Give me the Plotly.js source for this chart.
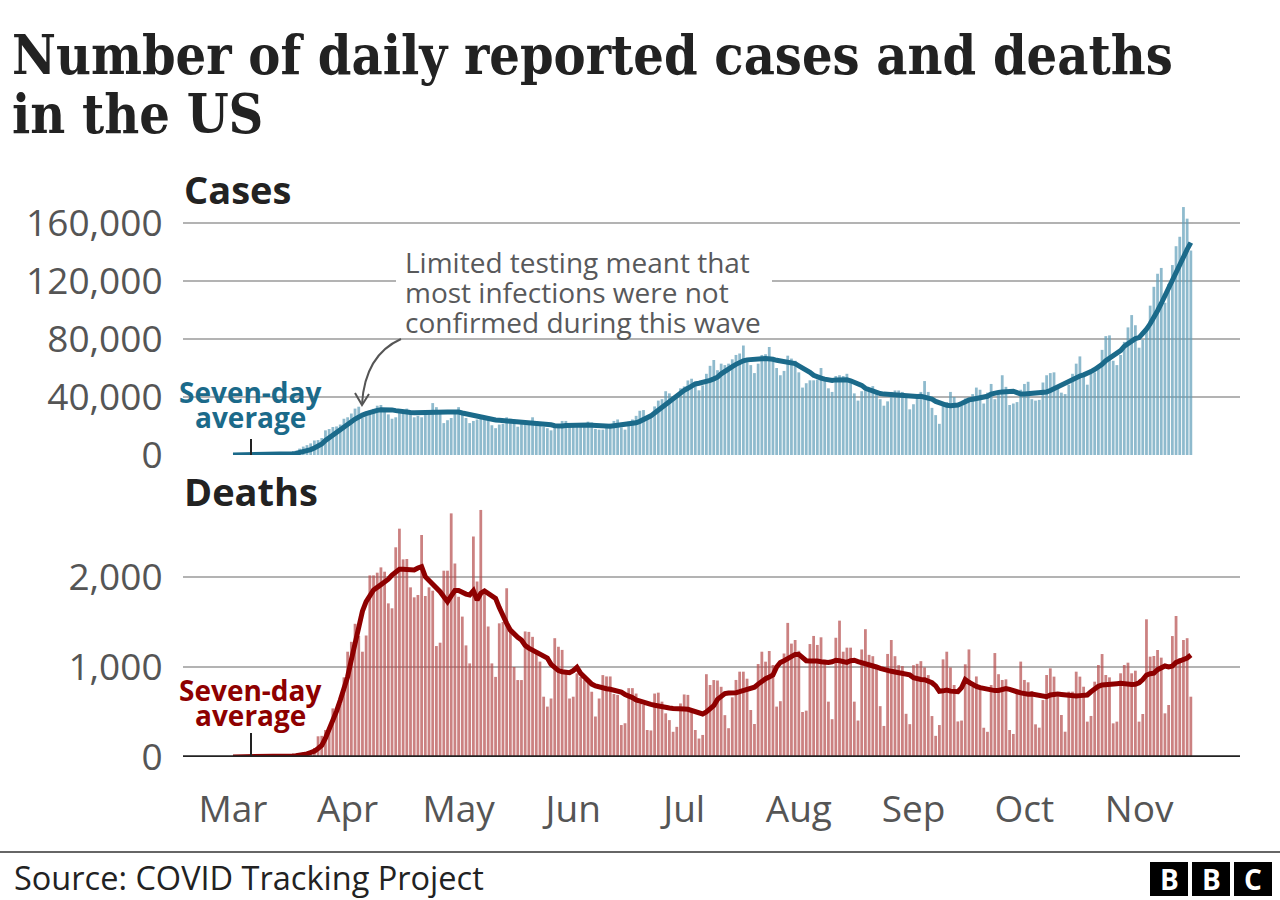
<!DOCTYPE html>
<html>
<head>
<meta charset="utf-8">
<script src="https://cdn.plot.ly/plotly-3.0.1.min.js"></script>
<style>
  html, body { margin: 0; padding: 0; background: #fff; }
  #chart { width: 1280px; height: 900px; }
</style>
</head>
<body>
<div id="chart"></div>
<script>
// ---------- DATA ----------
const monthLabels = ['Mar', 'Apr', 'May', 'Jun', 'Jul', 'Aug', 'Sep', 'Oct', 'Nov'];
const monthNumbers = [3, 4, 5, 6, 7, 8, 9, 10, 11];

// Daily reported cases
const casesMar = [10, 20, 20, 30, 60, 100, 110, 120, 180, 290, 270, 400, 600, 750, 900, 1400, 1800, 2900, 4400, 5800, 6800, 8000, 10000, 10300, 11700, 17000, 17900, 19300, 19700, 21000, 25000];
const casesApr = [26000, 28600, 32000, 33300, 25800, 29800, 30600, 31800, 34000, 34500, 30000, 28000, 25000, 26000, 29000, 31000, 32000, 30000, 26000, 27000, 26000, 28000, 30000, 35800, 33000, 29000, 22000, 24000, 25500, 29500];
const casesMay = [33000, 28500, 25500, 22000, 23500, 24500, 27000, 26500, 24500, 20500, 18500, 21000, 21500, 26000, 25000, 23500, 19500, 21500, 21000, 21000, 26000, 23000, 21500, 19500, 18500, 17000, 19000, 20500, 23500, 23500, 20000];
const casesJun = [20000, 20500, 19500, 21000, 23000, 22500, 18000, 17500, 17500, 20500, 21500, 23500, 24500, 19000, 17500, 23000, 24500, 27000, 30500, 31000, 26000, 28000, 33500, 37500, 38500, 44000, 42500, 40000, 40500, 46000];
const casesJul = [47300, 51400, 52600, 50300, 44600, 48000, 56000, 61500, 65500, 58500, 63000, 62000, 63000, 66000, 69000, 70000, 75500, 66000, 62000, 56500, 63000, 69000, 69500, 74500, 65500, 60000, 55000, 58000, 68500, 66500, 65000];
const casesAug = [57000, 46500, 49500, 51500, 51500, 52000, 60000, 52000, 46000, 43500, 54500, 55000, 54500, 56000, 52000, 42500, 37500, 44000, 44500, 44000, 47500, 44000, 38500, 34000, 37000, 43500, 44500, 44500, 43500, 41000, 31500];
const casesSep = [35000, 40000, 43500, 51000, 43500, 32500, 27500, 21500, 34000, 36500, 43500, 40000, 34500, 34000, 39000, 39000, 42000, 46500, 45000, 35500, 43000, 49000, 38500, 44000, 55000, 47000, 34500, 35500, 36500, 45000];
const casesOct = [49000, 50500, 38500, 37500, 38000, 50000, 55000, 56500, 57000, 46000, 43000, 42000, 48500, 56000, 63000, 68000, 56500, 48500, 56000, 57000, 60000, 72500, 82000, 82500, 65000, 62000, 69000, 78000, 88000, 96500, 89500];
const casesNov = [74000, 79500, 88500, 103000, 116000, 125000, 129000, 105000, 118000, 131000, 144000, 150500, 171000, 163000, 141000];

// Seven-day average of cases
const casesAvgMar = [10, 15, 20, 20, 30, 40, 60, 70, 100, 140, 160, 210, 280, 370, 460, 620, 820, 1100, 1600, 2200, 2900, 3700, 4900, 6100, 7600, 10000, 12000, 14000, 15800, 17800, 19800];
const casesAvgApr = [21300, 23000, 24800, 26600, 27500, 28600, 29600, 30300, 30800, 31200, 31300, 31400, 31100, 30600, 30100, 29700, 29400, 29300, 29200, 29300, 29400, 29300, 29300, 29700, 30000, 30300, 30000, 29700, 29600, 29700];
const casesAvgMay = [29600, 29000, 28400, 27800, 27300, 26600, 26100, 25800, 25200, 24600, 24200, 24000, 23800, 23600, 23400, 23200, 23000, 22900, 22800, 22700, 22600, 22400, 22100, 21700, 21300, 20800, 20200, 19800, 20000, 20300, 20500];
const casesAvgJun = [20600, 20700, 20800, 20800, 20700, 20600, 20300, 20000, 19600, 19500, 19800, 20200, 20600, 20600, 20600, 21000, 21600, 22200, 23200, 24300, 25500, 27000, 29000, 31000, 33000, 35300, 37500, 39300, 41000, 43000];
const casesAvgJul = [44600, 46000, 47500, 49000, 49500, 50000, 50800, 51500, 52500, 53700, 56000, 58000, 59500, 61000, 62500, 64000, 65000, 65600, 66000, 66300, 66400, 66400, 66500, 66400, 66000, 65300, 64800, 64500, 64300, 64000, 63000];
const casesAvgAug = [61500, 60300, 58500, 57000, 55000, 53700, 53000, 52300, 51600, 51400, 51800, 51900, 51900, 51900, 51200, 50300, 49400, 48000, 46000, 45000, 44000, 42900, 42400, 42000, 41800, 41700, 41600, 41600, 41300, 40900, 40400];
const casesAvgSep = [40000, 40300, 40500, 40000, 39500, 38500, 37000, 35800, 35000, 34300, 34000, 34200, 34500, 35500, 37200, 38000, 38500, 38900, 39200, 39700, 40500, 42000, 43000, 43200, 43500, 43700, 43700, 44000, 43000, 42000];
const casesAvgOct = [42100, 42300, 42600, 42800, 43000, 43300, 43500, 44500, 45800, 47200, 48300, 49300, 51300, 52300, 53300, 54500, 55300, 56200, 57500, 59000, 60500, 62500, 65000, 66500, 68000, 69700, 72000, 75000, 77000, 79000, 80300];
const casesAvgNov = [81000, 83500, 86700, 90500, 94500, 99500, 104500, 110000, 115500, 121500, 127000, 132000, 137000, 141800, 146500];

// Daily reported deaths
const deathsMar = [0, 1, 1, 2, 2, 3, 2, 2, 4, 5, 5, 7, 8, 9, 10, 13, 20, 23, 40, 50, 55, 60, 100, 230, 235, 300, 310, 540, 520, 590, 885];
const deathsApr = [1170, 1280, 1480, 1345, 1170, 1350, 2018, 2018, 2048, 2107, 2059, 1707, 1652, 2330, 2537, 2196, 2200, 1885, 1774, 1800, 2467, 1789, 1885, 1848, 1233, 1270, 2070, 2070, 2707, 2150];
const deathsMay = [1780, 1560, 1240, 1040, 2450, 1950, 2745, 1855, 1450, 1040, 890, 1485, 1500, 1875, 1410, 1000, 855, 855, 1395, 1390, 1335, 1170, 1060, 670, 560, 650, 1320, 1225, 1190, 930, 650];
const deathsJun = [670, 930, 890, 855, 840, 725, 450, 650, 910, 895, 895, 700, 690, 355, 375, 765, 765, 705, 595, 580, 300, 295, 705, 715, 615, 485, 410, 280, 335, 595];
const deathsJul = [695, 690, 520, 300, 205, 245, 920, 800, 855, 850, 780, 465, 320, 663, 856, 948, 948, 870, 522, 367, 1033, 1170, 1059, 1178, 1022, 560, 620, 1150, 1490, 1260, 1300];
const deathsAug = [1180, 500, 515, 1255, 1345, 1245, 1330, 1080, 615, 420, 1325, 1515, 1170, 1215, 1215, 615, 405, 1195, 1420, 1135, 1120, 985, 565, 345, 1145, 1300, 1120, 1020, 1010, 480, 365];
const deathsSep = [1020, 1035, 1065, 995, 910, 455, 235, 355, 1085, 1170, 995, 800, 395, 405, 1030, 1195, 780, 895, 765, 325, 280, 800, 1155, 920, 856, 863, 300, 256, 740, 1060];
const deathsOct = [856, 830, 733, 363, 326, 633, 911, 985, 893, 670, 467, 281, 726, 726, 948, 893, 781, 393, 456, 837, 1022, 1144, 911, 885, 374, 393, 930, 1022, 1048, 930, 959];
const deathsNov = [393, 478, 1530, 1115, 1122, 1189, 1104, 485, 578, 1344, 1567, 1100, 1300, 1320, 670];

// Seven-day average of deaths
const deathsAvgMar = [1, 1, 1, 1, 2, 2, 2, 3, 3, 4, 4, 5, 6, 7, 9, 10, 12, 15, 19, 25, 35, 50, 65, 95, 130, 210, 300, 400, 510, 630, 760];
const deathsAvgApr = [893, 1080, 1280, 1485, 1620, 1726, 1800, 1856, 1885, 1911, 1950, 1975, 2022, 2050, 2085, 2085, 2078, 2075, 2078, 2100, 2115, 2004, 1965, 1930, 1880, 1837, 1780, 1726, 1790, 1850];
const deathsAvgMay = [1850, 1826, 1810, 1800, 1848, 1744, 1820, 1845, 1819, 1790, 1763, 1660, 1560, 1485, 1410, 1360, 1330, 1300, 1240, 1210, 1190, 1170, 1150, 1130, 1100, 1030, 990, 960, 948, 940, 937];
const deathsAvgJun = [960, 996, 930, 890, 850, 810, 790, 775, 763, 758, 752, 746, 740, 720, 695, 680, 660, 635, 620, 605, 592, 585, 575, 565, 560, 552, 545, 540, 533, 533];
const deathsAvgJul = [533, 530, 520, 505, 492, 478, 500, 530, 570, 640, 670, 705, 712, 707, 715, 726, 735, 744, 755, 775, 810, 845, 870, 890, 911, 1000, 1050, 1070, 1090, 1110, 1140];
const deathsAvgAug = [1140, 1110, 1070, 1068, 1070, 1067, 1058, 1050, 1050, 1058, 1075, 1070, 1060, 1052, 1070, 1075, 1060, 1050, 1042, 1028, 1015, 1000, 985, 970, 962, 952, 945, 938, 930, 922, 912];
const deathsAvgSep = [880, 866, 862, 858, 845, 825, 790, 730, 735, 744, 732, 726, 726, 770, 860, 830, 800, 785, 770, 760, 745, 740, 738, 740, 750, 760, 752, 744, 725, 712];
const deathsAvgOct = [698, 697, 700, 695, 689, 680, 670, 690, 698, 700, 695, 689, 685, 680, 678, 682, 686, 689, 725, 760, 785, 800, 807, 807, 807, 815, 819, 810, 807, 805, 807];
const deathsAvgNov = [825, 860, 911, 925, 932, 970, 990, 1011, 1000, 1010, 1050, 1065, 1078, 1100, 1133];

// Axis ticks
const casesTickVals = [0, 40000, 80000, 120000, 160000];
const casesTickText = ['0', '40,000', '80,000', '120,000', '160,000'];
const deathsTickVals = [0, 1000, 2000];
const deathsTickText = ['0', '1,000', '2,000'];

// ---------- BUILD SERIES ----------
const casesByMonth = [casesMar, casesApr, casesMay, casesJun, casesJul, casesAug, casesSep, casesOct, casesNov];
const casesAvgByMonth = [casesAvgMar, casesAvgApr, casesAvgMay, casesAvgJun, casesAvgJul, casesAvgAug, casesAvgSep, casesAvgOct, casesAvgNov];
const deathsByMonth = [deathsMar, deathsApr, deathsMay, deathsJun, deathsJul, deathsAug, deathsSep, deathsOct, deathsNov];
const deathsAvgByMonth = [deathsAvgMar, deathsAvgApr, deathsAvgMay, deathsAvgJun, deathsAvgJul, deathsAvgAug, deathsAvgSep, deathsAvgOct, deathsAvgNov];

function pad(n) { return (n < 10 ? '0' : '') + n; }
function datesOf(arrs) {
  const out = [];
  arrs.forEach((arr, mi) => {
    arr.forEach((v, di) => {
      const d = new Date(Date.UTC(2020, monthNumbers[mi] - 1, di + 1));
      out.push(d.getUTCFullYear() + '-' + pad(d.getUTCMonth() + 1) + '-' + pad(d.getUTCDate()));
    });
  });
  return out;
}
const flat = arrs => [].concat(...arrs);

const casesX = datesOf(casesByMonth), casesY = flat(casesByMonth);
const casesAvgX = datesOf(casesAvgByMonth), casesAvgY = flat(casesAvgByMonth);
const deathsX = datesOf(deathsByMonth), deathsY = flat(deathsByMonth);
const deathsAvgX = datesOf(deathsAvgByMonth), deathsAvgY = flat(deathsAvgByMonth);
const monthTickVals = monthNumbers.map(m => '2020-' + pad(m) + '-01');

// ---------- GEOMETRY HELPERS ----------
const W = 1280, H = 900, ML = 183, MR = 40;
const PW = W - ML - MR;
const px = x => (x - ML) / PW;     // pixel x -> paper
const py = y => 1 - y / H;         // pixel y -> paper (no top/bottom margin)
const xRange = ['2020-02-16 11:30', '2020-11-28 07:00'];

const GREY_TXT = '#555555';
const BLUE_LINE = '#1b6a8a';
const RED_LINE = '#8e0000';
const SANS = '"Open Sans", "Noto Sans", sans-serif';
const SERIF = '"DejaVu Serif Condensed", "DejaVu Serif", "Liberation Serif", serif';

const traces = [
  { type: 'bar', x: casesX, y: casesY, xaxis: 'x', yaxis: 'y',
    marker: { color: 'rgb(95,158,185)', line: { width: 0 } }, opacity: 0.7, hoverinfo: 'skip' },
  { type: 'scatter', mode: 'lines', x: casesAvgX, y: casesAvgY, xaxis: 'x', yaxis: 'y',
    line: { color: BLUE_LINE, width: 5 }, hoverinfo: 'skip' },
  { type: 'bar', x: deathsX, y: deathsY, xaxis: 'x2', yaxis: 'y2',
    marker: { color: 'rgb(182,76,76)', line: { width: 0 } }, opacity: 0.7, hoverinfo: 'skip' },
  { type: 'scatter', mode: 'lines', x: deathsAvgX, y: deathsAvgY, xaxis: 'x2', yaxis: 'y2',
    line: { color: RED_LINE, width: 5 }, hoverinfo: 'skip' }
];

const tickFont = { family: SANS, size: 37, color: GREY_TXT };

const layout = {
  width: W, height: H,
  margin: { l: ML, r: MR, t: 0, b: 0, pad: 0 },
  paper_bgcolor: '#ffffff', plot_bgcolor: 'rgba(0,0,0,0)',
  showlegend: false, bargap: 0.25,
  font: { family: SANS, color: GREY_TXT },
  xaxis: { domain: [0, 1], anchor: 'y', type: 'date', range: xRange,
    showticklabels: false, showgrid: false, zeroline: false, showline: false, ticks: '' },
  yaxis: { domain: [py(455), py(201.25)], anchor: 'x', range: [0, 175000],
    tickvals: casesTickVals, ticktext: casesTickText, tickfont: tickFont,
    ticks: 'outside', ticklen: 12, tickcolor: 'rgba(0,0,0,0)',
    showgrid: true, gridcolor: '#b3b3b3', gridwidth: 1.6, zeroline: false, showline: false },
  xaxis2: { domain: [0, 1], anchor: 'y2', type: 'date', range: xRange,
    tickvals: monthTickVals, ticktext: monthLabels, tickfont: tickFont,
    ticks: 'outside', ticklen: 20, tickcolor: 'rgba(0,0,0,0)',
    showgrid: false, zeroline: false, showline: false },
  yaxis2: { domain: [py(757), py(505)], anchor: 'x2', range: [0, 2800],
    tickvals: deathsTickVals, ticktext: deathsTickText, tickfont: tickFont,
    ticks: 'outside', ticklen: 12, tickcolor: 'rgba(0,0,0,0)',
    showgrid: true, gridcolor: '#b3b3b3', gridwidth: 1.6, zeroline: false, showline: false },
  shapes: [
    // white box behind the annotation text (hides the gridline)
    { type: 'rect', xref: 'paper', yref: 'paper', x0: px(396), x1: px(772), y0: py(336), y1: py(248),
      fillcolor: '#ffffff', line: { width: 0 }, layer: 'above' },
    // curved arrow
    { type: 'path', xref: 'paper', yref: 'paper', layer: 'above',
      path: 'M ' + px(401) + ' ' + py(339) + ' Q ' + px(365) + ' ' + py(355) + ' ' + px(362) + ' ' + py(404),
      line: { color: '#555555', width: 2 } },
    { type: 'path', xref: 'paper', yref: 'paper', layer: 'above',
      path: 'M ' + px(355) + ' ' + py(393) + ' L ' + px(362) + ' ' + py(405) + ' L ' + px(369) + ' ' + py(394),
      line: { color: '#555555', width: 2 } },
    // deaths baseline
    { type: 'line', xref: 'paper', yref: 'y2', x0: 0, x1: 1, y0: 0, y1: 0,
      line: { color: '#222222', width: 3.5 }, layer: 'above' },
    // leader ticks under "Seven-day average"
    { type: 'line', xref: 'paper', yref: 'paper', x0: px(251), x1: px(251), y0: py(439), y1: py(455),
      line: { color: '#222222', width: 2 }, layer: 'above' },
    { type: 'line', xref: 'paper', yref: 'paper', x0: px(251), x1: px(251), y0: py(733), y1: py(756),
      line: { color: '#222222', width: 2 }, layer: 'above' },
    // footer rule
    { type: 'line', xref: 'paper', yref: 'paper', x0: px(0), x1: px(1280), y0: py(852), y1: py(852),
      line: { color: '#333333', width: 1.5 } },
    // BBC blocks
    { type: 'rect', xref: 'paper', yref: 'paper', x0: px(1150), x1: px(1188), y0: py(896), y1: py(862),
      fillcolor: '#000', line: { width: 0 } },
    { type: 'rect', xref: 'paper', yref: 'paper', x0: px(1192), x1: px(1230), y0: py(896), y1: py(862),
      fillcolor: '#000', line: { width: 0 } },
    { type: 'rect', xref: 'paper', yref: 'paper', x0: px(1234), x1: px(1272), y0: py(896), y1: py(862),
      fillcolor: '#000', line: { width: 0 } }
  ],
  annotations: []
};

function note(text, x, y, opts) {
  layout.annotations.push(Object.assign({
    text: text, xref: 'paper', yref: 'paper', x: px(x), y: py(y),
    xanchor: 'left', yanchor: 'middle', showarrow: false,
    font: { family: SANS, size: 28, color: GREY_TXT }
  }, opts || {}));
}

// Title
note('<b>Number of daily reported cases and deaths</b>', 10, 56, { font: { family: SERIF, size: 53.5, color: '#222222' } });
note('<b>in the US</b>', 10, 114, { font: { family: SERIF, size: 53.5, color: '#222222' } });
// Panel labels
note('<b>Cases</b>', 182, 189, { font: { family: SANS, size: 38, color: '#222222' } });
note('<b>Deaths</b>', 182, 491, { font: { family: SANS, size: 38, color: '#222222' } });
// Annotation about limited testing
note('Limited testing meant that', 403, 262, { font: { family: SANS, size: 28, color: '#58595b' } });
note('most infections were not', 403, 292, { font: { family: SANS, size: 28, color: '#58595b' } });
note('confirmed during this wave', 403, 322, { font: { family: SANS, size: 28, color: '#58595b' } });
// Seven-day average labels
note('<b>Seven-day</b>', 250, 392, { xanchor: 'center', font: { family: SANS, size: 28, color: BLUE_LINE } });
note('<b>average</b>', 250, 417, { xanchor: 'center', font: { family: SANS, size: 28, color: BLUE_LINE } });
note('<b>Seven-day</b>', 250, 690, { xanchor: 'center', font: { family: SANS, size: 28, color: RED_LINE } });
note('<b>average</b>', 250, 715, { xanchor: 'center', font: { family: SANS, size: 28, color: RED_LINE } });
// Footer
note('Source: COVID Tracking Project', 12, 877, { font: { family: SANS, size: 32.5, color: '#222222' } });
note('<b>B</b>', 1169, 879, { xanchor: 'center', font: { family: SANS, size: 28, color: '#ffffff' } });
note('<b>B</b>', 1211, 879, { xanchor: 'center', font: { family: SANS, size: 28, color: '#ffffff' } });
note('<b>C</b>', 1253, 879, { xanchor: 'center', font: { family: SANS, size: 28, color: '#ffffff' } });

Plotly.newPlot('chart', traces, layout, { displayModeBar: false, staticPlot: true });
</script>
</body>
</html>
